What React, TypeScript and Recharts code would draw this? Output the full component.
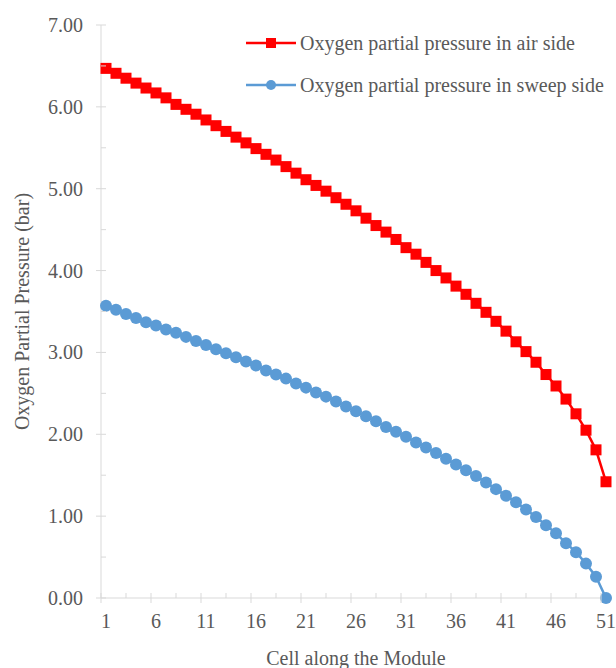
import React from "react";
import {
  LineChart,
  Line,
  XAxis,
  YAxis,
  Legend,
} from "recharts";

// cell index along the module
const cells = Array.from({ length: 51 }, (_, i) => i + 1);

// oxygen partial pressure, air side (bar)
const airSide = [
  6.47, 6.41, 6.35, 6.29, 6.23, 6.17, 6.11, 6.03, 5.97, 5.91,
  5.84, 5.77, 5.7, 5.63, 5.56, 5.49, 5.42, 5.35, 5.27, 5.19,
  5.11, 5.04, 4.97, 4.89, 4.81, 4.73, 4.64, 4.55, 4.47, 4.38,
  4.28, 4.2, 4.1, 4.0, 3.91, 3.81, 3.71, 3.6, 3.49, 3.38,
  3.26, 3.13, 3.01, 2.88, 2.73, 2.59, 2.43, 2.25, 2.05, 1.81,
  1.42,
];

// oxygen partial pressure, sweep side (bar)
const sweepSide = [
  3.57, 3.52, 3.47, 3.42, 3.37, 3.33, 3.28, 3.24, 3.19, 3.14,
  3.09, 3.04, 2.99, 2.94, 2.89, 2.84, 2.78, 2.73, 2.68, 2.62,
  2.57, 2.51, 2.46, 2.4, 2.34, 2.28, 2.22, 2.16, 2.09, 2.03,
  1.97, 1.9, 1.84, 1.77, 1.7, 1.63, 1.56, 1.49, 1.41, 1.33,
  1.25, 1.17, 1.08, 0.99, 0.89, 0.79, 0.67, 0.56, 0.42, 0.26,
  0.0,
];

// x axis: labels every 5 cells, long marks between, short marks halfway
const xLabels = [1, 6, 11, 16, 21, 26, 31, 36, 41, 46, 51];
const xMajorMarks = [0.5, 5.5, 10.5, 15.5, 20.5, 25.5, 30.5, 35.5, 40.5, 45.5, 50.5];
const xMinorMarks = [3, 8, 13, 18, 23, 28, 33, 38, 43, 48];

// y axis: labelled every 1, short marks every 0.5
const yLabels = [0, 1, 2, 3, 4, 5, 6, 7];
const yMinorMarks = [0.5, 1.5, 2.5, 3.5, 4.5, 5.5, 6.5];

const data = cells.map((c, i) => ({
  cell: c,
  air: airSide[i],
  sweep: sweepSide[i],
}));

const FONT = "'Liberation Serif', 'Times New Roman', serif";
const FS = 20;
const TEXT = "#595959";
const AXIS = "#d9d9d9";
const RED = "#ff0000";
const BLUE = "#5b9bd5";

const XTick = (props: any) => {
  const { x, y, payload } = props;
  const v = payload.value;
  if (xLabels.includes(v)) {
    return (
      <text x={x} y={y + 30} textAnchor="middle" fill={TEXT} fontSize={FS} fontFamily={FONT}>
        {v}
      </text>
    );
  }
  if (xMajorMarks.includes(v)) {
    return <line x1={x} x2={x} y1={y - 5} y2={y + 5} stroke={AXIS} strokeWidth={1} />;
  }
  return <line x1={x} x2={x} y1={y - 5} y2={y} stroke={AXIS} strokeWidth={1} />;
};

const YTick = (props: any) => {
  const { x, y, payload } = props;
  const v = payload.value;
  if (yLabels.includes(v)) {
    return (
      <g>
        <line x1={x - 5} x2={x + 5} y1={y} y2={y} stroke={AXIS} strokeWidth={1} />
        <text x={x - 18} y={y + 7} textAnchor="end" fill={TEXT} fontSize={FS} fontFamily={FONT}>
          {v.toFixed(2)}
        </text>
      </g>
    );
  }
  return <line x1={x} x2={x + 5} y1={y} y2={y} stroke={AXIS} strokeWidth={1} />;
};

const SquareDot = (props: any) => {
  const { cx, cy, index } = props;
  if (cx == null || cy == null) return null;
  return <rect key={`sq-${index}`} x={cx - 5.5} y={cy - 5.5} width={11} height={11} fill={RED} />;
};

const CircleDot = (props: any) => {
  const { cx, cy, index } = props;
  if (cx == null || cy == null) return null;
  return <circle key={`ci-${index}`} cx={cx} cy={cy} r={6} fill={BLUE} />;
};

const legendItems = [
  { name: "Oxygen partial pressure in air side", color: RED, shape: "square" },
  { name: "Oxygen partial pressure in sweep side", color: BLUE, shape: "circle" },
];

const renderLegend = () => (
  <div style={{ fontFamily: FONT, fontSize: FS, color: TEXT }}>
    {legendItems.map((item) => (
      <div key={item.name} style={{ display: "flex", alignItems: "center", height: 42 }}>
        <svg width={50} height={14} style={{ marginRight: 4 }}>
          <line x1={0} x2={50} y1={7} y2={7} stroke={item.color} strokeWidth={2.5} />
          {item.shape === "square" ? (
            <rect x={20} y={2} width={10} height={10} fill={item.color} />
          ) : (
            <circle cx={25} cy={7} r={5} fill={item.color} />
          )}
        </svg>
        <span style={{ whiteSpace: "nowrap" }}>{item.name}</span>
      </div>
    ))}
  </div>
);

const App: React.FC = () => {
  return (
    <div style={{ position: "absolute", left: 0, top: 0, width: 616, height: 668, background: "#fff" }}>
      <LineChart
        width={616}
        height={668}
        data={data}
        margin={{ top: 25, right: 5, left: 0, bottom: 0 }}
      >
        <XAxis
          dataKey="cell"
          type="number"
          domain={[0.5, 51.5]}
          ticks={[...xMajorMarks, ...xLabels, ...xMinorMarks].sort((a, b) => a - b)}
          interval={0}
          height={70}
          stroke={AXIS}
          tickLine={false}
          tickSize={0}
          tickMargin={0}
          tick={<XTick />}
          label={{
            value: "Cell along the Module",
            position: "insideBottom",
            offset: 3,
            fill: TEXT,
            fontSize: FS,
            fontFamily: FONT,
          }}
        />
        <YAxis
          type="number"
          domain={[0, 7]}
          ticks={[...yLabels, ...yMinorMarks].sort((a, b) => a - b)}
          interval={0}
          width={101}
          stroke={AXIS}
          tickLine={false}
          tickSize={0}
          tickMargin={0}
          tick={<YTick />}
          label={{
            value: "Oxygen Partial Pressure (bar)",
            angle: -90,
            position: "insideLeft",
            offset: 22,
            fill: TEXT,
            fontSize: FS,
            fontFamily: FONT,
            style: { textAnchor: "middle" },
          }}
        />
        <Legend
          verticalAlign="middle"
          align="center"
          layout="vertical"
          content={renderLegend}
          wrapperStyle={{ left: 246, top: 22, width: 370 }}
        />
        <Line
          type="linear"
          dataKey="air"
          name="Oxygen partial pressure in air side"
          stroke={RED}
          strokeWidth={2.5}
          dot={<SquareDot />}
          activeDot={false}
          isAnimationActive={false}
        />
        <Line
          type="linear"
          dataKey="sweep"
          name="Oxygen partial pressure in sweep side"
          stroke={BLUE}
          strokeWidth={2.5}
          dot={<CircleDot />}
          activeDot={false}
          isAnimationActive={false}
        />
      </LineChart>
    </div>
  );
};

export default App;
